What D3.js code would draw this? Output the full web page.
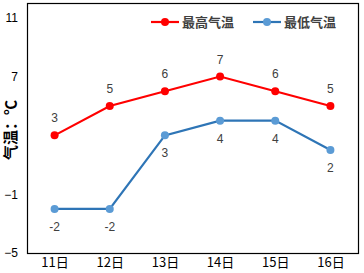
<!DOCTYPE html>
<html><head><meta charset="utf-8">
<script src="https://cdn.jsdelivr.net/npm/d3@7"></script>
<style>body{margin:0;background:#fff}svg{display:block}</style>
</head><body>
<script>
const categories = ["11日","12日","13日","14日","15日","16日"];
const highTemps = [3,5,6,7,6,5];
const lowTemps = [-2,-2,3,4,4,2];
const yTicks = [-5,-1,3,7,11];
const seriesNames = ["最高气温","最低气温"];

const W=364,H=273;
const m={l:27,r:6,t:3,b:20};
const svg=d3.select("body").append("svg").attr("width",W).attr("height",H);
const x=d3.scalePoint().domain(categories).range([m.l,W-m.r]).padding(0.5);
const y=d3.scaleLinear().domain([-5,12]).range([H-m.b,m.t]);

// frame
svg.append("rect").attr("x",m.l+0.5).attr("y",m.t+0.5).attr("width",W-m.r-m.l).attr("height",H-m.b-m.t)
  .attr("fill","none").attr("stroke","#000").attr("stroke-width",1.2);

// y tick labels
const yAxis=d3.axisLeft(y).tickValues(yTicks).tickSize(0).tickPadding(9);
const ya=svg.append("g").attr("transform",`translate(${m.l},0)`).call(yAxis);
ya.select(".domain").remove();
ya.selectAll("text").attr("font-family","Liberation Sans, Arial, sans-serif").attr("font-size",12).attr("fill","#000");

// x tick labels
const xAxis=d3.axisBottom(x).tickSize(0).tickPadding(5);
const xa=svg.append("g").attr("transform",`translate(0,${H-m.b})`).call(xAxis);
xa.select(".domain").remove();
xa.selectAll("text").attr("font-family","Noto Sans CJK SC, sans-serif").attr("font-size",13).attr("fill","#000");

// y title
svg.append("rect").attr("x",2).attr("y",95).attr("width",19).attr("height",70).attr("fill","#fff");
svg.append("text").attr("transform","translate(16,130) rotate(-90)").attr("text-anchor","middle")
  .attr("font-family","Noto Sans CJK SC, sans-serif").attr("font-size",15).attr("font-weight","bold").attr("fill","#000")
  .text("气温：℃");

const series=[
  {name:seriesNames[0],values:highTemps,line:"#FF0000",dot:"#FF0000",pos:"above"},
  {name:seriesNames[1],values:lowTemps,line:"#2E75B6",dot:"#5B9BD5",pos:"below"}
];
const line=d3.line().x((d,i)=>x(categories[i])).y(d=>y(d));
series.forEach(s=>{
  svg.append("path").datum(s.values).attr("d",line).attr("fill","none").attr("stroke",s.line).attr("stroke-width",2.2);
  svg.selectAll(null).data(s.values).enter().append("circle")
    .attr("cx",(d,i)=>x(categories[i])).attr("cy",d=>y(d)).attr("r",4).attr("fill",s.dot);
  svg.selectAll(null).data(s.values).enter().append("text")
    .attr("x",(d,i)=>x(categories[i])).attr("y",d=>s.pos==="above"?y(d)-13:y(d)+22)
    .attr("text-anchor","middle").attr("font-family","Liberation Sans, Arial, sans-serif").attr("font-size",12).attr("fill","#404040")
    .text(d=>d);
});

// legend
const lg=[{x:151,s:series[0]},{x:253,s:series[1]}];
lg.forEach(o=>{
  const g=svg.append("g").attr("transform",`translate(${o.x},22)`);
  g.append("line").attr("x1",0).attr("x2",28).attr("stroke",o.s.line).attr("stroke-width",2.2);
  g.append("circle").attr("cx",14).attr("r",4).attr("fill",o.s.dot);
  g.append("text").attr("x",31).attr("y",5).attr("font-family","Noto Sans CJK SC, sans-serif").attr("font-size",13)
    .attr("font-weight","bold").attr("fill","#404040").text(o.s.name);
});
</script>
</body></html>
